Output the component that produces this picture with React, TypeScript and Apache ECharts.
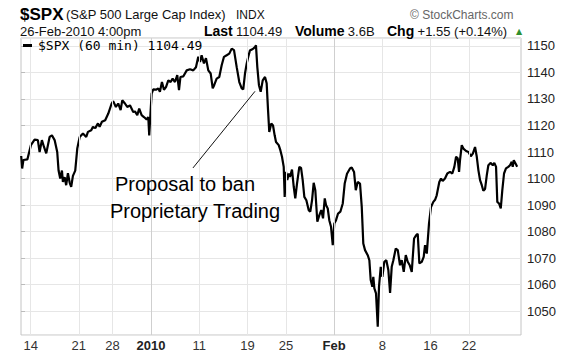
import React, { useEffect, useRef } from "react";
import * as echarts from "echarts";

// Trading-day position (0 = Dec 11 2009 open) and S&P 500 hourly values
const times = [
  0.02, 0.12, 0.25, 0.66, 1.03, 1.41, 1.75, 1.93, 2.17, 2.38, 2.62, 2.97, 3.21, 3.49, 3.76, 3.9, 4.07, 4.25, 4.35, 4.53,
  4.69, 4.87, 5.05, 5.21, 5.39, 5.63, 5.84, 6.09, 6.43, 6.77, 6.95, 7.29, 7.47, 7.71, 7.99, 8.16, 8.4, 8.74, 9.06, 9.41,
  9.57, 9.85, 10.09, 10.34, 10.51, 10.79, 11.03, 11.31, 11.65, 11.83, 12.07, 12.27, 12.52, 12.76, 13.04, 13.21, 13.31,
  13.46, 13.56, 13.73, 14.01, 14.25, 14.42, 14.63, 14.84, 15.05, 15.29, 15.53, 15.74, 15.98, 16.22, 16.4, 16.55, 16.84,
  17.2, 17.54, 17.88, 18.16, 18.4, 18.58, 18.75, 18.99, 19.2, 19.44, 19.69, 19.9, 20.06, 20.31, 20.58, 20.83, 21.07,
  21.35, 21.62, 21.87, 22.11, 22.39, 22.66, 22.91, 23.07, 23.25, 23.43, 23.59, 23.77, 23.95, 24.11, 24.29, 24.39, 24.53,
  24.7, 24.88, 25.09, 25.33, 25.5, 25.64, 25.77, 25.98, 26.16, 26.33, 26.47, 26.75, 26.92, 27.09, 27.27, 27.37, 27.51,
  27.64, 27.79, 27.92, 28.13, 28.31, 28.47, 28.65, 28.89, 29.07, 29.24, 29.41, 29.62, 29.86, 30.03, 30.21, 30.38, 30.55,
  30.76, 30.97, 31.17, 31.35, 31.53, 31.66, 31.84, 32.0, 32.18, 32.36, 32.52, 32.7, 32.91, 33.15, 33.4, 33.6, 33.84,
  34.15, 34.33, 34.57, 34.75, 34.95, 35.19, 35.37, 35.53, 35.71, 35.99, 36.16, 36.3, 36.47, 36.57, 36.68, 36.85, 37.03,
  37.16, 37.34, 37.51, 37.71, 37.92, 38.13, 38.31, 38.48, 38.65, 38.9, 39.11, 39.34, 39.52, 39.73, 39.94, 40.14, 40.35,
  40.56, 40.8, 41.01, 41.18, 41.35, 41.6, 41.8, 41.94, 42.12, 42.35, 42.56, 42.8, 42.98, 43.15, 43.42, 43.6, 43.77,
  44.01, 44.25, 44.53, 44.77, 44.98, 45.16, 45.33, 45.47, 45.57, 45.75, 45.92, 46.2, 46.44, 46.69, 46.9, 47.13, 47.31,
  47.48, 47.65, 47.83, 47.99, 48.17, 48.35, 48.51, 48.76, 48.97, 49.13, 49.31, 49.44, 49.62, 49.8, 49.96, 50.14, 50.34,
  50.58, 50.76, 50.94, 51.04, 51.15, 51.36, 51.5,
];
const values = [
  1108.5, 1103.8, 1107.0, 1107.2, 1112.6, 1114.7, 1114.5, 1110.0, 1114.5, 1112.0, 1109.5, 1115.7, 1116.3, 1114.5, 1110.0,
  1103.0, 1100.0, 1103.0, 1098.7, 1100.5, 1097.5, 1102.0, 1098.5, 1096.9, 1101.0, 1103.0, 1111.3, 1115.7, 1117.0, 1115.7,
  1117.6, 1118.2, 1119.5, 1119.0, 1120.8, 1119.5, 1121.4, 1122.0, 1124.5, 1128.3, 1129.2, 1127.0, 1128.3, 1125.8, 1129.5,
  1128.3, 1127.0, 1127.6, 1125.1, 1125.3, 1123.9, 1126.4, 1123.9, 1123.2, 1122.3, 1123.2, 1116.3, 1125.8, 1132.0, 1133.6,
  1133.5, 1134.0, 1132.7, 1136.4, 1133.5, 1134.5, 1137.0, 1136.4, 1137.7, 1136.4, 1139.0, 1133.3, 1138.3, 1138.5, 1140.8,
  1141.2, 1140.8, 1142.0, 1145.9, 1144.0, 1146.5, 1143.4, 1145.4, 1140.8, 1139.6, 1134.0, 1135.3, 1137.7, 1138.3, 1142.7,
  1145.9, 1146.5, 1147.1, 1149.0, 1148.4, 1142.0, 1136.4, 1134.0, 1133.6, 1139.6, 1143.4, 1145.9, 1148.4, 1148.6, 1149.0,
  1149.6, 1150.2, 1142.0, 1135.2, 1132.7, 1137.0, 1138.3, 1135.9, 1126.0, 1117.6, 1120.8, 1120.0, 1116.3, 1113.8, 1112.6,
  1110.7, 1108.2, 1104.4, 1093.1, 1102.5, 1099.4, 1101.9, 1100.6, 1103.4, 1096.9, 1092.5, 1098.1, 1104.4, 1104.0, 1099.4,
  1093.1, 1091.8, 1088.1, 1087.5, 1091.8, 1098.4, 1095.6, 1083.7, 1086.2, 1088.1, 1085.0, 1092.5, 1090.0, 1088.7, 1084.3,
  1081.8, 1074.9, 1083.0, 1084.3, 1086.8, 1087.5, 1090.6, 1098.1, 1101.8, 1103.8, 1104.2, 1102.5, 1095.6, 1098.7, 1098.1,
  1089.3, 1075.5, 1073.0, 1071.1, 1069.2, 1061.7, 1059.2, 1062.9, 1058.6, 1056.7, 1044.1, 1059.2, 1066.7, 1062.9, 1068.6,
  1069.2, 1065.5, 1056.9, 1066.7, 1069.2, 1073.6, 1073.0, 1067.3, 1069.2, 1064.8, 1071.1, 1068.6, 1067.3, 1064.8, 1077.4,
  1078.6, 1079.2, 1068.0, 1068.6, 1070.5, 1074.9, 1071.7, 1083.0, 1089.3, 1091.2, 1092.0, 1093.7, 1098.7, 1100.0, 1099.1,
  1100.0, 1101.9, 1102.5, 1101.9, 1104.4, 1108.2, 1107.6, 1102.5, 1106.9, 1112.6, 1111.3, 1110.4, 1110.0, 1108.4, 1109.4,
  1111.9, 1108.2, 1103.1, 1099.4, 1097.5, 1095.4, 1096.1, 1101.3, 1105.0, 1105.9, 1105.0, 1105.9, 1104.4, 1091.2, 1090.6,
  1088.7, 1095.6, 1101.9, 1103.8, 1104.4, 1105.0, 1106.3, 1104.4, 1106.9, 1105.5, 1104.49,
];

// x-axis tick labels (positions in trading days) and which are bold
const tickPositions = [1, 6, 9.5, 13.5, 18.5, 23.5, 27.5, 32.5, 37.5, 42.5, 46.5];
const tickLabels = ["14", "21", "28", "2010", "11", "19", "25", "Feb", "8", "16", "22"];
const boldTicks = ["2010", "Feb"];

// annotation pointer (trading day, value)
const annotFrom = [17.85, 1104.0];
const annotTo = [24.29, 1132.9];

const FONT = "'Liberation Sans', Arial, Helvetica, sans-serif";

export default function App() {
  const ref = useRef<HTMLDivElement>(null);
  useEffect(() => {
    if (!ref.current) return;
    const chart = echarts.init(ref.current, undefined, { renderer: "svg" });
    const data = times.map((t, i) => [t, values[i]]);
    const labelMap: Record<string, string> = {};
    tickPositions.forEach((p, i) => (labelMap[String(p)] = tickLabels[i]));

    const gridLines = tickPositions.map((p, i) => ({
      xAxis: p,
      lineStyle: {
        color: boldTicks.includes(tickLabels[i]) ? "#cfcfcf" : "#e6e6e6",
        width: 1,
        type: "solid",
      },
    }));

    const Z = 100;
    chart.setOption({
      animation: false,
      backgroundColor: "#ffffff",
      grid: {
        left: 21,
        right: 56,
        top: 38,
        bottom: 22,
        show: true,
        borderColor: "#c4c4c4",
        borderWidth: 1,
        backgroundColor: "transparent",
      },
      xAxis: {
        type: "value",
        min: 0,
        max: 51.9,
        interval: 0.5,
        axisLine: { show: false },
        axisTick: { show: false },
        splitLine: { show: false },
        axisLabel: {
          margin: 4,
          color: "#333",
          fontSize: 13,
          fontFamily: FONT,
          showMinLabel: false,
          showMaxLabel: false,
          formatter: (v: number) => {
            const l = labelMap[String(v)];
            if (!l) return "";
            return boldTicks.includes(l) ? `{b|${l}}` : l;
          },
          rich: { b: { fontWeight: "bold", fontSize: 13, color: "#222", fontFamily: FONT } },
        },
      },
      yAxis: {
        type: "value",
        position: "right",
        min: 1041,
        max: 1153,
        splitNumber: 11,
        axisLine: { show: false },
        axisTick: { show: true, length: 4, lineStyle: { color: "#bbb" } },
        splitLine: { show: true, lineStyle: { color: "#e6e6e6", width: 1 } },
        axisLabel: {
          margin: 6,
          color: "#222",
          fontSize: 13,
          fontFamily: FONT,
          showMinLabel: false,
          showMaxLabel: false,
          formatter: (v: number) => (Math.abs(v % 10) < 1e-6 ? String(v) : ""),
        },
      },
      series: [
        {
          type: "line",
          data,
          z: 1,
          showSymbol: false,
          silent: true,
          lineStyle: { opacity: 0 },
          markLine: {
            silent: true,
            symbol: ["none", "none"],
            label: { show: false },
            data: [
              ...gridLines,
              [
                { coord: annotFrom, lineStyle: { color: "#111", width: 1, type: "solid" } },
                { coord: annotTo },
              ],
            ],
          },
        },
        {
          type: "line",
          data,
          z: 3,
          showSymbol: false,
          lineStyle: { color: "#000", width: 2.2 },
        },
      ],
      graphic: [
        { type: "text", z: Z, left: 20, top: 6, style: { text: "$SPX", font: `bold 17px ${FONT}`, fill: "#000" } },
        { type: "text", z: Z, left: 66, top: 8, style: { text: "(S&P 500 Large Cap Index)", font: `13px ${FONT}`, fill: "#111" } },
        { type: "text", z: Z, left: 236, top: 9, style: { text: "INDX", font: `12px ${FONT}`, fill: "#111" } },
        { type: "text", z: Z, left: 410, top: 9, style: { text: "© StockCharts.com", font: `12px ${FONT}`, fill: "#666" } },
        { type: "text", z: Z, left: 20, top: 25, style: { text: "26-Feb-2010 4:00pm", font: `13px ${FONT}`, fill: "#111" } },
        {
          type: "text",
          z: Z,
          left: 204,
          top: 24,
          style: {
            text: "{b|Last} {v|1104.49}",
            rich: {
              b: { font: `bold 14px ${FONT}`, fill: "#000" },
              v: { font: `13px ${FONT}`, fill: "#111" },
            },
          },
        },
        {
          type: "text",
          z: Z,
          left: 295,
          top: 24,
          style: {
            text: "{b|Volume} {v|3.6B}",
            rich: {
              b: { font: `bold 14px ${FONT}`, fill: "#000" },
              v: { font: `13px ${FONT}`, fill: "#111" },
            },
          },
        },
        {
          type: "text",
          z: Z,
          left: 387,
          top: 24,
          style: {
            text: "{b|Chg} {v|+1.55 (+0.14%)}",
            rich: {
              b: { font: `bold 14px ${FONT}`, fill: "#000" },
              v: { font: `13px ${FONT}`, fill: "#111" },
            },
          },
        },
        { type: "text", z: Z, left: 516, top: 27, style: { text: "▲", font: `8px 'DejaVu Sans', sans-serif`, fill: "#2f8f2f" } },
        { type: "rect", z: Z, left: 23, top: 44, shape: { width: 9, height: 3 }, style: { fill: "#000" } },
        {
          type: "text",
          z: Z,
          left: 38,
          top: 39,
          style: { text: "$SPX (60 min) 1104.49", font: `13px 'DejaVu Sans Mono', monospace`, fill: "#000" },
        },
        { type: "text", z: Z, left: 115, top: 174, style: { text: "Proposal to ban", font: `20px ${FONT}`, fill: "#000" } },
        { type: "text", z: Z, left: 110, top: 201, style: { text: "Proprietary Trading", font: `20px ${FONT}`, fill: "#000" } },
      ],
    });
    return () => chart.dispose();
  }, []);
  return (
    <div
      ref={ref}
      style={{ position: "fixed", left: 0, top: 0, width: 577, height: 357, background: "#fff" }}
    />
  );
}
